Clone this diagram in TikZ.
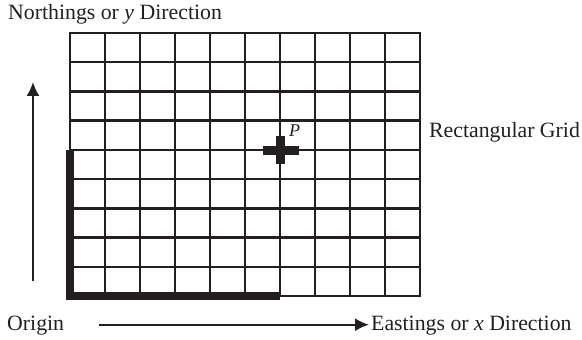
\documentclass[tikz,border=0pt]{standalone}
\usepackage{fontspec}
\setmainfont{Liberation Serif}
\usepackage{xcolor}
\usetikzlibrary{arrows.meta, positioning}
\definecolor{ink}{HTML}{231F20}

\begin{document}
\begin{tikzpicture}[
  x=1pt, y=1pt,
  font=\fontsize{21.8}{26}\selectfont,
  txtLbl/.style={anchor=base west, inner sep=0pt, text=ink},
  gridLine/.style={draw=ink, line width=2.4pt, line cap=rect},
  heavyLine/.style={draw=ink, line width=8pt, line join=miter},
  dirArrow/.style={draw=ink, line width=2pt, -{Latex[length=14pt,width=13pt]}}
]
  \useasboundingbox (0,0) rectangle (582,340);

  % grid, 10 x 9 cells
  \foreach \i in {0,...,10}
    \draw [gridLine] (70+35*\i,44) -- (70+35*\i,307);
  \foreach \j in {0,...,9}
    \draw [gridLine] (70,44+29.22*\j) -- (420,44+29.22*\j);

  % heavy origin corner
  \draw [heavyLine] (70,190) -- (70,44) -- (280,44);

  % point P
  \coordinate (ptP) at (280,189);
  \fill [ink] (ptP) ++(-17,-4.5) rectangle ++(36,9);
  \fill [ink] (ptP) ++(-4.5,-13) rectangle ++(9,28);

  % labels
  \node [txtLbl] (northLbl) at (8,320) {Northings or \textit{y} Direction};
  \node [txtLbl] (gridLbl) at (429,202) {Rectangular Grid};
  \node [txtLbl] (originLbl) at (7,9) {Origin};
  \node [txtLbl] (eastLbl) at (371,9) {Eastings or \textit{x} Direction};
  \node [txtLbl, font=\fontsize{18}{21}\selectfont\itshape] (pLbl) at (289,203) {P};

  % direction arrows
  \coordinate (northFrom) at (33,59);
  \coordinate (northTo) at (33,258);
  \coordinate (eastFrom) at (99,15.3);
  \coordinate (eastTo) at (369,15.3);
  \draw [dirArrow] (northFrom) -- (northTo);
  \draw [dirArrow] (eastFrom) -- (eastTo);
\end{tikzpicture}
\end{document}
